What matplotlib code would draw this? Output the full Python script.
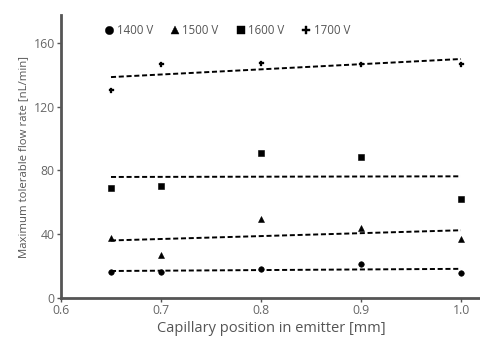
import numpy as np
import matplotlib
matplotlib.use("Agg")
import matplotlib.pyplot as plt
from matplotlib.lines import Line2D

plt.rcParams['font.family'] = ['Open Sans', 'DejaVu Sans']

# Capillary positions [mm]
positions = [0.65, 0.7, 0.8, 0.9, 1.0]

# Maximum tolerable flow rate [nL/min] per spray voltage
flow_1400 = [16.3, 16.3, 18.2, 21.3, 15.7]
flow_1500 = [37.6, 27.0, 49.6, 43.9, 37.0]
flow_1600 = [69.0, 70.0, 91.0, 88.5, 62.0]
flow_1700 = [130.5, 146.8, 147.4, 147.0, 147.0]

series_labels = ['1400 V', '1500 V', '1600 V', '1700 V']
series_markers = ['o', '^', 's', 'P']
series_values = [flow_1400, flow_1500, flow_1600, flow_1700]

x_ticks = [0.6, 0.7, 0.8, 0.9, 1.0]
x_tick_labels = ['0.6', '0.7', '0.8', '0.9', '1.0']
y_ticks = [0, 40, 80, 120, 160]

fig = plt.figure(figsize=(4.81, 3.37), dpi=100)
ax = fig.add_axes([0.1268, 0.1157, 0.8732, 0.8398])

axis_col = '#555555'
x = np.array(positions)
for vals, mk in zip(series_values, series_markers):
    y = np.array(vals)
    ax.plot(x, y, linestyle='none', marker=mk, color='black',
            markersize=4 if mk != 'P' else 3.6, markeredgewidth=0.4 if mk != 'P' else 0.2)
    slope, intercept = np.polyfit(x, y, 1)
    xf = np.array([x.min(), x.max()])
    ax.plot(xf, slope * xf + intercept, color='black', linestyle=(0, (2.6, 1.4)),
            linewidth=1.4)

ax.set_xlim(0.6, 1.02)
ax.set_ylim(0, 177.5)
ax.set_xticks(x_ticks)
ax.set_xticklabels(x_tick_labels)
ax.set_yticks(y_ticks)

for side in ['top', 'right']:
    ax.spines[side].set_visible(False)
for side in ['left', 'bottom']:
    ax.spines[side].set_color(axis_col)
    ax.spines[side].set_linewidth(2.0)
ax.tick_params(axis='both', colors=axis_col, labelcolor='#666666', length=3,
               width=1.0, labelsize=8.8, pad=1.5)

ax.set_xlabel('Capillary position in emitter [mm]', fontsize=10.5, color='#555555',
              labelpad=2.5)
ax.set_ylabel('Maximum tolerable flow rate [nL/min]', fontsize=8.2, color='#555555',
              labelpad=3)

handles = [Line2D([], [], linestyle='none', marker=mk, color='black',
                  markersize=6 if mk != 'P' else 5.5, markeredgewidth=0.3)
           for mk in series_markers]
leg = ax.legend(handles, series_labels, loc='upper left', ncol=4, frameon=False,
                bbox_to_anchor=(0.086, 1.0), fontsize=8.3, handlelength=0.6,
                handletextpad=0.35, columnspacing=1.6, borderaxespad=0.35)
for t in leg.get_texts():
    t.set_color('#555555')

fig.savefig('out.png', dpi=100, facecolor='white')
